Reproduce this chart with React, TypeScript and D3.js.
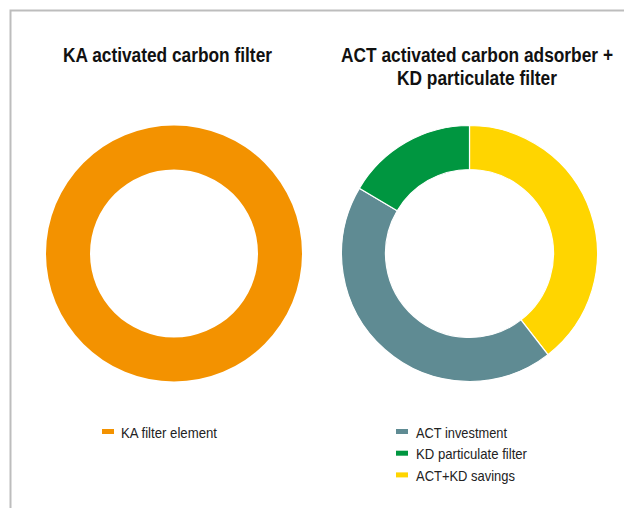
import React from "react";
import * as d3 from "d3";

const leftCategories = ["KA filter element"];
const leftValues = [100];
const leftColors = ["#F39200"];

const rightCategories = ["ACT investment", "KD particulate filter", "ACT+KD savings"];
const rightValues = [44, 16.5, 39.5];
const rightColors = ["#5F8B93", "#009640", "#FFD500"];
// clockwise drawing order starting at 12 o'clock
const rightDrawOrder = [2, 0, 1];

const W = 624;
const H = 508;

function Donut({ cx, cy, values, colors, order }: { cx: number; cy: number; values: number[]; colors: string[]; order: number[] }) {
  const items = order.map((i) => ({ v: values[i], c: colors[i] }));
  const pie = d3.pie<{ v: number; c: string }>().sort(null).value((d) => d.v);
  const arc = d3.arc<d3.PieArcDatum<{ v: number; c: string }>>().innerRadius(84).outerRadius(128);
  const arcs = pie(items);
  return (
    <g transform={`translate(${cx},${cy})`}>
      {arcs.map((a, i) => (
        <path key={i} d={arc(a) || ""} fill={a.data.c} stroke="#fff" strokeWidth={arcs.length > 1 ? 1.2 : 0} />
      ))}
    </g>
  );
}

export default function App() {
  const font = "'Liberation Sans', Arial, sans-serif";
  return (
    <svg width={W} height={H} style={{ position: "absolute", left: 0, top: 0, background: "#fff" }} fontFamily={font}>
      <path d={`M10.5,${H + 5} V10.5 H${W + 5}`} fill="none" stroke="#bdbdbd" strokeWidth={2} />
      <text x={167.5} y={61.5} textAnchor="middle" fontSize={19.5} fontWeight="bold" fill="#111" textLength={209} lengthAdjust="spacingAndGlyphs">
        KA activated carbon filter
      </text>
      <text x={477} y={61.5} textAnchor="middle" fontSize={19.5} fontWeight="bold" fill="#111" textLength={272} lengthAdjust="spacingAndGlyphs">
        ACT activated carbon adsorber +
      </text>
      <text x={477} y={84.5} textAnchor="middle" fontSize={19.5} fontWeight="bold" fill="#111" textLength={160} lengthAdjust="spacingAndGlyphs">
        KD particulate filter
      </text>
      <Donut cx={174} cy={253.5} values={leftValues} colors={leftColors} order={[0]} />
      <Donut cx={469.5} cy={253.5} values={rightValues} colors={rightColors} order={rightDrawOrder} />
      {leftCategories.map((c, i) => (
        <g key={c}>
          <rect x={102} y={429 + i * 21.7} width={12} height={5} fill={leftColors[i]} />
          <text x={121} y={437.5 + i * 21.7} fontSize={15} fill="#222" textLength={96} lengthAdjust="spacingAndGlyphs">
            {c}
          </text>
        </g>
      ))}
      {rightCategories.map((c, i) => (
        <g key={c}>
          <rect x={396} y={429 + i * 21.7} width={12} height={5} fill={rightColors[i]} />
          <text x={416} y={437.5 + i * 21.7} fontSize={15} fill="#222" textLength={[91, 111, 99][i]} lengthAdjust="spacingAndGlyphs">
            {c}
          </text>
        </g>
      ))}
    </svg>
  );
}
